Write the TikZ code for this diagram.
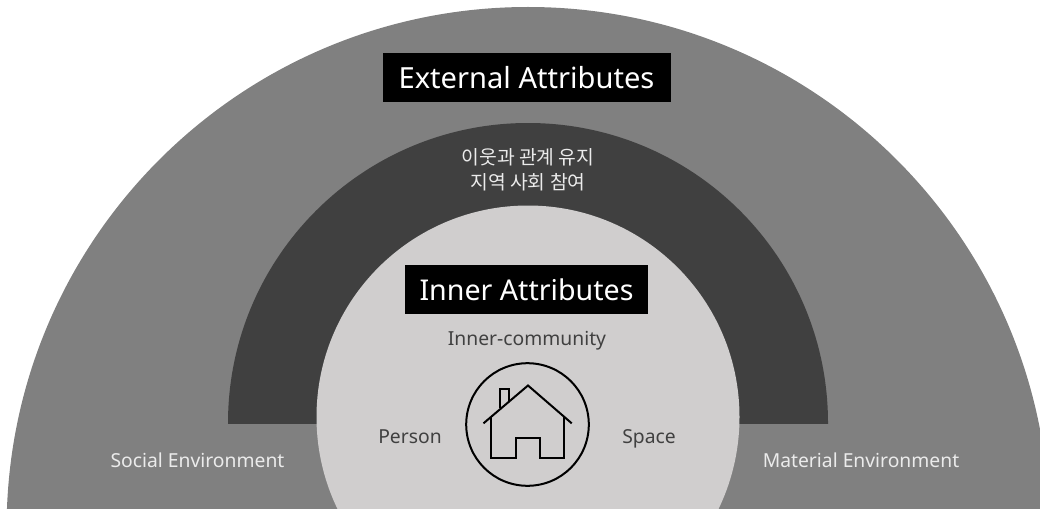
\documentclass[tikz,border=0pt]{standalone}
\usepackage{fontspec}
\setmainfont{Noto Sans}
\newfontfamily\krfont{Noto Sans CJK KR}
\definecolor{outerc}{HTML}{808080}
\definecolor{midc}{HTML}{404040}
\definecolor{innerc}{HTML}{D0CECE}
\definecolor{txtc}{HTML}{404040}
\tikzset{
  head/.style={fill=black,text=white,font=\fontsize{28.6}{32}\selectfont,inner sep=0pt,minimum height=49pt},
  lightlabel/.style={text=white!92!black,font=\fontsize{19.3}{22}\selectfont,inner sep=0pt,anchor=base},
  darklabel/.style={text=txtc,font=\fontsize{19.3}{22}\selectfont,inner sep=0pt,anchor=base},
  icon/.style={draw=black,line width=2pt,line join=miter}
}
\begin{document}
\begin{tikzpicture}[x=1pt,y=-1pt]
\useasboundingbox (0,0) rectangle (1040,508);
\begin{scope}
\clip (0,0) rectangle (1040,508);
\fill[outerc] (528,528.4) circle[radius=521.4];
\begin{scope}
\clip (0,0) rectangle (1040,423);
\fill[midc] (528,423) circle[radius=300];
\end{scope}
\fill[innerc] (528,417) circle[radius=211.5];
\end{scope}
\node[head,minimum width=288pt,font=\fontsize{29.1}{32}\selectfont] (ext) at (526.5,78) {External Attributes};
\node[head,minimum width=243pt] (inn) at (526.5,289.5) {Inner Attributes};
\node[lightlabel,anchor=center,align=center,font=\krfont\fontsize{19.3}{24.5}\selectfont] (kr) at (528,170) {이웃과 관계 유지\\지역 사회 참여};
\node[darklabel] (ic) at (527,345) {Inner-community};
\node[darklabel] (pe) at (410,443) {Person};
\node[darklabel] (sp) at (649,443) {Space};
\node[lightlabel] (so) at (197.5,467) {Social Environment};
\node[lightlabel] (ma) at (861,467) {Material Environment};
\draw[icon] (527.5,424.5) circle[radius=61.3];
\draw[icon] (483.5,423.3) -- (528,385.5) -- (571.7,423.3);
\draw[icon] (491,417) -- (491,457.7) -- (515.7,457.7) -- (515.7,437.7) -- (539.5,437.7) -- (539.5,457.7) -- (564.3,457.7) -- (564.3,417);
\draw[icon] (499.8,408) -- (499.8,388.7) -- (509,388.7) -- (509,401.5);
\end{tikzpicture}
\end{document}
